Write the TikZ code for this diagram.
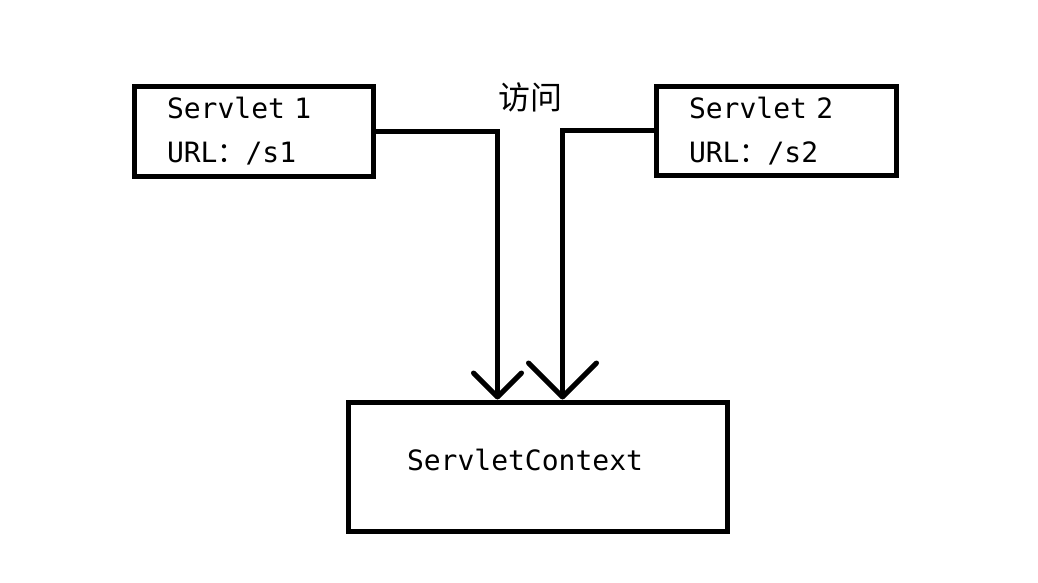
\documentclass[tikz,border=0pt]{standalone}
\usepackage{fontspec}
\setmonofont{DejaVu Sans Mono}
\newfontfamily\cjk{Noto Sans CJK SC}
\usetikzlibrary{arrows.meta}

\tikzset{
    box/.style={draw, line width=5pt, align=left, font=\ttfamily\fontsize{28}{44}\selectfont},
    link/.style={line width=5pt, line join=miter}
}

\begin{document}
\begin{tikzpicture}[x=1pt, y=-1pt]
    \useasboundingbox (0,0) rectangle (1038,583);
    \node[box, text width=173pt, inner xsep=33pt, minimum height=89pt] (s1) at (253.5,131.5) {Servlet 1\\URL{\cjk ：}/s1};
    \node[box, text width=174pt, inner xsep=33pt, minimum height=89pt] (s2) at (776,131) {Servlet 2\\URL{\cjk ：}/s2};
    \node[box, text width=261pt, inner xsep=59pt, text depth=14pt, minimum height=129pt] (ctx) at (537.5,466.5) {ServletContext};
    \node[font=\cjk\fontsize{32}{36}\selectfont] (visit) at (530,97) {访问};
    % the two requests meet the shared context
    \draw [link, -{Straight Barb[round, length=24pt, width=48pt]}] (s1.east) -| ([xshift=-40pt]ctx.north);
    \draw [link, -{Straight Barb[round, length=34pt, width=68pt]}] (s2.west) -| ([xshift=25pt]ctx.north);
\end{tikzpicture}
\end{document}
